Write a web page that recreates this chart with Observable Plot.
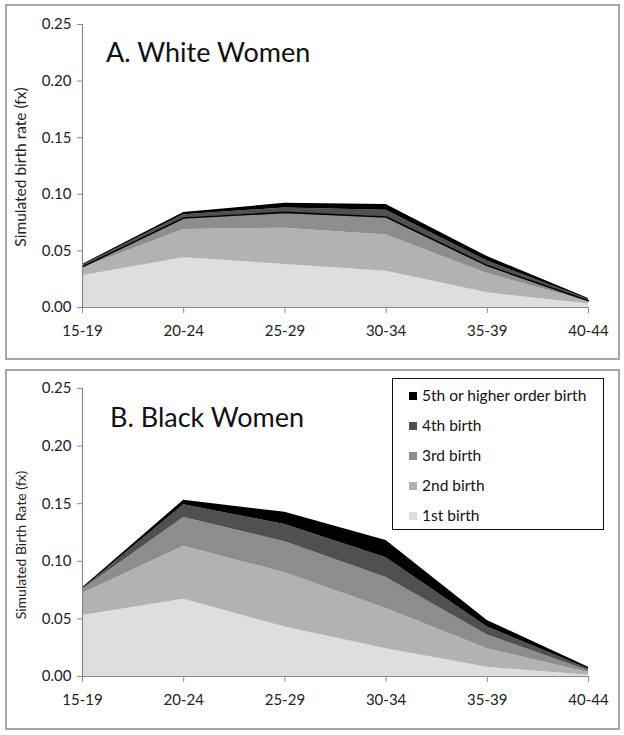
<!DOCTYPE html>
<html><head><meta charset="utf-8">
<script src="https://cdn.jsdelivr.net/npm/d3@7"></script>
<script src="https://cdn.jsdelivr.net/npm/@observablehq/plot@0.6"></script>
<style>
body{margin:0;background:#fff;font-family:Lato,"Open Sans",sans-serif;}
#wrap{position:relative;width:624px;height:735px;overflow:hidden;}
.panel{position:absolute;border:2px solid #a6a6a6;box-sizing:border-box;}
.plot{position:absolute;left:0;}
.title{position:absolute;font-size:27px;color:#111;white-space:nowrap;line-height:1;}
.ylab{position:absolute;font-size:15.5px;color:#222;white-space:nowrap;transform:translate(-50%,-50%) rotate(-90deg);}
#legend{position:absolute;left:392px;top:378px;width:212px;height:152px;border:1.5px solid #111;box-sizing:border-box;background:#fff;}
.li{position:absolute;left:16px;font-size:15.5px;color:#111;white-space:nowrap;line-height:1;}
.sw{position:absolute;left:-2px;width:8px;height:8px;}
</style></head>
<body><div id="wrap"></div>
<script>
const ages = ["15-19","20-24","25-29","30-34","35-39","40-44"];
const orders = ["1st birth","2nd birth","3rd birth","4th birth","5th or higher order birth"];
const grays = ["#dedede","#b2b2b2","#8d8d8d","#505050","#000000"];
const yTicks = [0,0.05,0.10,0.15,0.20,0.25];

// White women: per-layer rates by age group
const white1 = [0.028,0.044,0.038,0.032,0.013,0.003];
const white2 = [0.007,0.025,0.032,0.032,0.017,0.002];
const white3 = [0.001,0.010,0.014,0.016,0.007,0.001];
const white4 = [0.001,0.003,0.004,0.006,0.004,0.001];
const white5 = [0.001,0.002,0.004,0.005,0.004,0.001];

// Black women: per-layer rates by age group
const black1 = [0.053,0.067,0.043,0.024,0.008,0.001];
const black2 = [0.019,0.046,0.047,0.035,0.016,0.0025];
const black3 = [0.0035,0.025,0.027,0.027,0.012,0.0015];
const black4 = [0.0005,0.011,0.015,0.017,0.007,0.0015];
const black5 = [0.001,0.004,0.0105,0.015,0.0056,0.0015];

function rows(layers){
  const out=[];
  layers.forEach((arr,k)=>arr.forEach((v,i)=>out.push({i, age:ages[i], order:orders[k], v})));
  return out;
}

const wrap = document.getElementById("wrap");

function panel(layers, top, h, mt, mb, extraLine){
  const data = rows(layers);
  const marks = [
    Plot.areaY(data,{x:"i", y:"v", z:"order", fill:"order", curve:"linear"}),
  ];
  if (extraLine){
    const cum = ages.map((a,i)=>({i, v: layers[0][i]+layers[1][i]+layers[2][i]}));
    marks.push(Plot.lineY(cum,{x:"i", y:"v", stroke:"#000", strokeWidth:1.6}));
  }
  marks.push(
    Plot.ruleX([0],{stroke:"#8a8a8a", strokeWidth:1.2}),
    Plot.ruleY([0],{stroke:"#8a8a8a", strokeWidth:1.2}),
    Plot.axisY({ticks:yTicks, tickFormat:d3.format(".2f"), tickSize:5, tickPadding:6, stroke:"#8a8a8a", fill:"#222", fontSize:15, label:null}),
    Plot.axisX({ticks:[0,1,2,3,4,5], tickFormat:i=>ages[i], tickSize:6, tickPadding:12, stroke:"#8a8a8a", fill:"#222", fontSize:15, label:null})
  );
  const svg = Plot.plot({
    width:624, height:h,
    marginLeft:82, marginRight:36, marginTop:mt, marginBottom:mb,
    style:{fontFamily:"Lato, 'Open Sans', sans-serif", background:"transparent", overflow:"visible"},
    x:{type:"linear", domain:[0,5]},
    y:{domain:[0,0.25]},
    color:{domain:orders, range:grays},
    marks
  });
  svg.classList.add("plot");
  svg.style.top = top+"px";
  wrap.appendChild(svg);
}

// panel borders
const pa = document.createElement("div"); pa.className="panel";
Object.assign(pa.style,{left:"5px",top:"4px",width:"615px",height:"356px"}); wrap.appendChild(pa);
const pb = document.createElement("div"); pb.className="panel";
Object.assign(pb.style,{left:"5px",top:"369px",width:"615px",height:"361px"}); wrap.appendChild(pb);

panel([white1,white2,white3,white4,white5], 0, 365, 24, 58, true);
panel([black1,black2,black3,black4,black5], 365, 370, 23, 59, false);

function addText(cls, txt, left, top){
  const d=document.createElement("div"); d.className=cls; d.textContent=txt;
  d.style.left=left+"px"; d.style.top=top+"px"; wrap.appendChild(d); return d;
}
addText("title","A. White Women",106,38);
addText("title","B. Black Women",110,403);
addText("ylab","Simulated birth rate (fx)",20,167);
const yb = addText("ylab","Simulated Birth Rate (fx)",20,545); yb.style.fontSize="14px";

// legend
const lg=document.createElement("div"); lg.id="legend"; wrap.appendChild(lg);
const legendOrder = orders.slice().reverse();
legendOrder.forEach((o,k)=>{
  const y = 17 + k*30;
  const sw=document.createElement("div"); sw.className="sw";
  sw.style.background = grays[orders.indexOf(o)]; sw.style.top=(y-4)+"px"; sw.style.left="16px";
  lg.appendChild(sw);
  const t=document.createElement("div"); t.className="li"; t.textContent=o;
  t.style.left="29px"; t.style.top=(y-8)+"px"; lg.appendChild(t);
});
</script></body></html>
